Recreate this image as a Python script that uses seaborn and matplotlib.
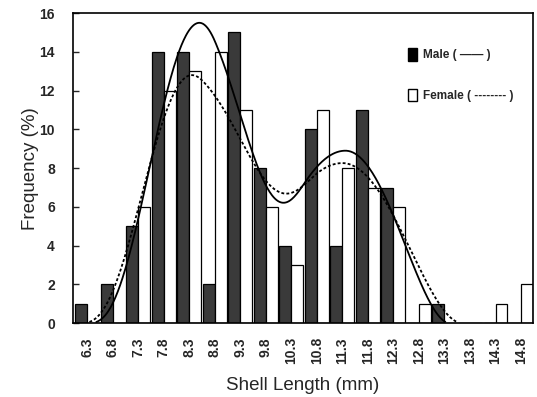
import numpy as np
import pandas as pd
import matplotlib
matplotlib.use("Agg")
import matplotlib.pyplot as plt
import seaborn as sns
from matplotlib.patches import Patch

# ---- data ----
lengths = ["6.3", "6.8", "7.3", "7.8", "8.3", "8.8", "9.3", "9.8", "10.3",
           "10.8", "11.3", "11.8", "12.3", "12.8", "13.3", "13.8", "14.3", "14.8"]
male = [1, 2, 5, 14, 14, 2, 15, 8, 4, 10, 4, 11, 7, 0, 1, 0, 0, 0]
female = [0, 0, 6, 12, 13, 14, 11, 6, 3, 11, 8, 7, 6, 1, 0, 0, 1, 2]

# fitted bimodal curves: components (centre mm, height %, left/right width, shape)
male_centres = [8.5, 11.36]
male_heights = [15.5, 8.9]
male_wleft = [2.20, 2.55]
male_wright = [2.10, 2.05]
male_shape = [3, 2]
female_centres = [8.35, 11.3]
female_heights = [12.8, 8.26]
female_wleft = [2.20, 2.75]
female_wright = [2.40, 2.35]
female_shape = [3, 2]

sns.set_theme(style="white")
plt.rcParams['font.family'] = ['Liberation Sans', 'DejaVu Sans']

df = pd.DataFrame({
    "length": lengths * 2,
    "sex": ["Male"] * len(lengths) + ["Female"] * len(lengths),
    "freq": male + female,
})

fig = plt.figure(figsize=(5.37, 3.97), dpi=100)
ax = fig.add_axes([0.136, 0.186, 0.8566, 0.781])

sns.barplot(data=df, x="length", y="freq", hue="sex", order=lengths,
            hue_order=["Male", "Female"],
            palette={"Male": "#3a3a3a", "Female": "white"},
            saturation=1, width=0.94, edgecolor="black", linewidth=0.9,
            ax=ax, legend=False, errorbar=None)


def mixture(xmm, centres, heights, wl, wr, ks):
    total = np.zeros_like(xmm)
    for c, h, a, b, k in zip(centres, heights, wl, wr, ks):
        w = np.where(xmm < c, a, b)
        u = 1 - ((xmm - c) / w) ** 2
        total += h * np.clip(u, 0, None) ** k
    return total


xmm = np.linspace(6.0, 15.0, 600)
step = float(lengths[1]) - float(lengths[0])
xpos = (xmm - float(lengths[0])) / step

ym = mixture(xmm, male_centres, male_heights, male_wleft, male_wright, male_shape)
yf = mixture(xmm, female_centres, female_heights, female_wleft, female_wright, female_shape)
ym = np.where(ym > 0.05, ym, np.nan)
yf = np.where(yf > 0.05, yf, np.nan)

ax.plot(xpos, ym, color="black", lw=1.3, solid_capstyle="round")
ax.plot(xpos, yf, color="black", lw=1.3, linestyle=(0, (1.6, 1.2)))

ax.set_xlim(-0.55, len(lengths) - 1 + 0.47)
ax.set_ylim(0, 16)
ax.set_yticks(range(0, 17, 2))
ax.set_xlabel("Shell Length (mm)", fontsize=13.5, labelpad=9)
ax.set_ylabel("Frequency (%)", fontsize=13.5, labelpad=0)
for lab in ax.get_xticklabels():
    lab.set_rotation(90)
    lab.set_fontweight("bold")
    lab.set_fontsize(10)
for lab in ax.get_yticklabels():
    lab.set_fontweight("bold")
    lab.set_fontsize(10)
ax.tick_params(axis="x", length=0, pad=10)
ax.tick_params(axis="y", length=4, width=1, direction="in", left=True, pad=13)

for s in ax.spines.values():
    s.set_visible(True)
    s.set_color("black")
    s.set_linewidth(1.2)

handles = [Patch(facecolor="black", edgecolor="black"),
           Patch(facecolor="white", edgecolor="black", linewidth=1)]
labels = ["Male ( \u2014\u2014 )", "Female ( -------- )"]
ax.legend(handles, labels, loc="upper left", bbox_to_anchor=(0.715, 0.905),
          frameon=False, handlelength=0.8, handleheight=1.2, handletextpad=0.5,
          labelspacing=2.3, borderpad=0,
          prop={"weight": "bold", "size": 8.5})

fig.savefig("out.png", dpi=100)
